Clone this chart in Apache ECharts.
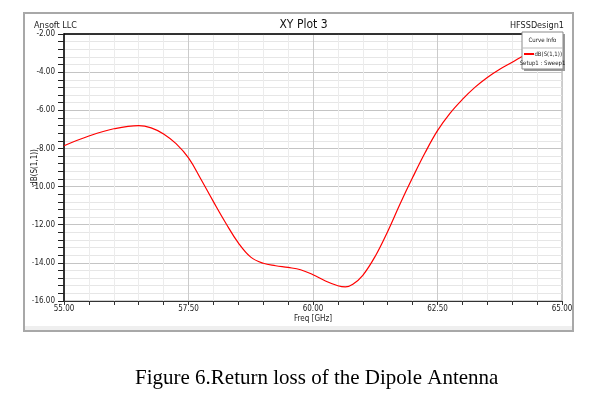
<!DOCTYPE html>
<html>
<head>
<meta charset="utf-8">
<title>XY Plot 3</title>
<script src="https://cdn.jsdelivr.net/npm/echarts@6/dist/echarts.min.js"></script>
<style>
body{margin:0;background:#fff;}
#chart{width:607px;height:398px;}
</style>
</head>
<body>
<div id="chart"></div>
<script>

// frequency in GHz
const freq = [55.0,55.5,56.0,56.5,56.75,57.0,57.25,57.5,57.75,58.0,58.25,58.5,58.75,59.0,59.25,59.5,59.75,60.0,60.25,60.5,60.65,60.8,61.0,61.25,61.5,61.75,62.0,62.25,62.5,62.75,63.0,63.25,63.5,63.75,64.0,64.25,64.5,64.75,65.0]

// dB(S(1,1))
const s11 = [-7.86,-7.35,-6.97,-6.80,-6.92,-7.24,-7.75,-8.5,-9.62,-10.79,-11.92,-12.95,-13.7,-14.02,-14.15,-14.24,-14.36,-14.62,-14.95,-15.2,-15.26,-15.12,-14.65,-13.65,-12.35,-10.9,-9.53,-8.23,-7.07,-6.16,-5.43,-4.8,-4.28,-3.85,-3.48,-3.1,-2.78,-2.5,-2.25]

const xTickLabels = ["55.00","57.50","60.00","62.50","65.00"]
const yTickLabels = ["-16.00","-14.00","-12.00","-10.00","-8.00","-6.00","-4.00","-2.00"]

const narrow = "'DejaVu Sans Condensed','Liberation Sans Narrow',sans-serif"

const chart = echarts.init(document.getElementById("chart"))

function onStep(v, step){
  return Math.abs(v/step - Math.round(v/step)) < 1e-6
}

chart.setOption({
  animation:false,
  backgroundColor:"#fff",
  title:[
    {text:"Ansoft LLC",left:29,top:16,textStyle:{fontFamily:narrow,fontSize:9,fontWeight:"normal",color:"#222"}},
    {text:"XY Plot 3",left:"center",top:14,textStyle:{fontFamily:narrow,fontSize:12,fontWeight:"normal",color:"#111"}},
    {text:"HFSSDesign1",right:38,top:16,textStyle:{fontFamily:narrow,fontSize:9,fontWeight:"normal",color:"#222"}},
    {text:"Figure 6.Return loss of the Dipole Antenna",left:130,top:363,textStyle:{fontFamily:"'Liberation Serif','Times New Roman',serif",fontSize:21,fontWeight:"normal",color:"#000"}}
  ],
  graphic:[
    {type:"rect",shape:{x:24,y:13,width:549,height:318},style:{fill:"none",stroke:"#a8a8a8",lineWidth:2},z:-10},
    {type:"rect",shape:{x:25,y:326,width:547,height:4},style:{fill:"#efefef"},z:-10},
    {type:"rect",shape:{x:524,y:34,width:41,height:37},style:{fill:"#9a9a9a"},z:100},
    {type:"rect",shape:{x:522,y:32,width:41,height:37},style:{fill:"#fff",stroke:"#8a8a8a",lineWidth:1},z:101},
    {type:"text",x:542.5,y:40,style:{text:"Curve Info",fill:"#222",font:"6px "+narrow,align:"center",verticalAlign:"middle"},z:102},
    {type:"line",shape:{x1:522,y1:48,x2:563,y2:48},style:{stroke:"#bbb",lineWidth:1},z:102},
    {type:"line",shape:{x1:524,y1:54,x2:534,y2:54},style:{stroke:"#ff0000",lineWidth:2},z:102},
    {type:"text",x:562,y:54,style:{text:"dB(S(1,1))",fill:"#222",font:"6px "+narrow,align:"right",verticalAlign:"middle"},z:102},
    {type:"text",x:542.5,y:63,style:{text:"Setup1 : Sweep1",fill:"#222",font:"6px "+narrow,align:"center",verticalAlign:"middle"},z:102}
  ],
  grid:{left:64,top:34,width:498,height:267,show:true,borderColor:"#a0a0a0",borderWidth:1,backgroundColor:"#fff"},
  xAxis:[{
    type:"value",min:55,max:65,interval:0.5,
    name:"Freq [GHz]",nameLocation:"middle",nameGap:14,nameMoveOverlap:false,
    nameTextStyle:{fontFamily:narrow,fontSize:8,color:"#222"},
    axisLine:{show:true,onZero:false,lineStyle:{color:"#333",width:1}},
    axisTick:{show:true,length:4,lineStyle:{color:"#333"}},
    axisLabel:{margin:4,fontFamily:narrow,fontSize:8,color:"#222",showMaxLabel:true,
      formatter:v=>onStep(v,2.5)?xTickLabels[Math.round((v-55)/2.5)]:""},
    splitLine:{show:true,lineStyle:{color:["#cbcbcb","#ececec","#ececec","#ececec","#ececec"],width:1}}
  },{
    type:"value",position:"top",min:55,max:65,
    axisLine:{show:true,lineStyle:{color:"#000",width:1.5}},
    axisTick:{show:false},axisLabel:{show:false},splitLine:{show:false}
  }],
  yAxis:{
    type:"value",min:-16,max:-2,interval:0.4,
    name:"dB(S(1,1))",nameLocation:"middle",nameRotate:90,nameGap:25,nameMoveOverlap:false,
    nameTextStyle:{fontFamily:narrow,fontSize:8,color:"#222"},
    axisLine:{show:true,onZero:false,lineStyle:{color:"#000",width:1.5}},
    axisTick:{show:true,length:6,lineStyle:{color:"#222"}},
    axisLabel:{margin:9,fontFamily:narrow,fontSize:8,color:"#222",
      formatter:v=>onStep(v,2)?yTickLabels[Math.round((v+16)/2)]:""},
    splitLine:{show:true,lineStyle:{color:["#c4c4c4","#e6e6e6","#e6e6e6","#e6e6e6","#e6e6e6"],width:1}}
  },
  series:[{
    type:"line",
    data:freq.map((f,i)=>[f,s11[i]]),
    smooth:0.4,
    showSymbol:false,
    lineStyle:{color:"#ff0000",width:1.2},
    clip:true
  }]
})

</script>
</body>
</html>
